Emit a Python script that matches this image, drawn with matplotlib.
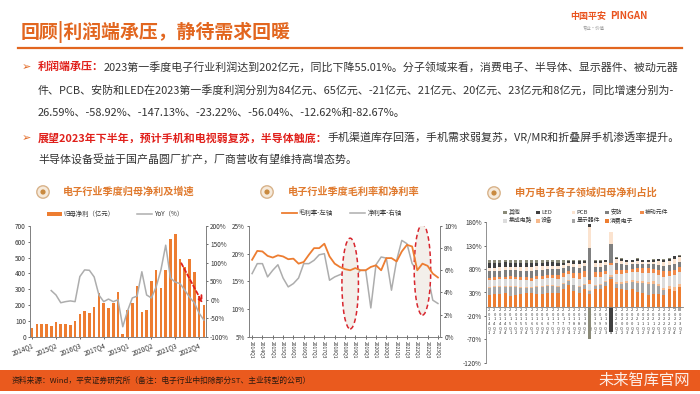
import numpy as np
import matplotlib
matplotlib.use("Agg")
import matplotlib.pyplot as plt
from matplotlib.patches import Rectangle, Circle, Ellipse

plt.rcParams['font.family'] = ['Noto Sans CJK SC', 'DejaVu Sans']
plt.rcParams['axes.unicode_minus'] = False

# ---------------- data ----------------
quarters = [f"{y}Q{q}" for y in range(2014, 2024) for q in range(1, 5)][:37]

# chart 1: net profit attributable (亿元) and YoY (%)
profit = [55, 80, 80, 80, 70, 90, 80, 80, 75, 100, 145, 165, 150, 190, 275, 215, 180, 215, 280,
          20, 170, 215, 320, 155, 170, 350, 420, 310, 420, 620, 650, 490, 440, 490, 410, 260, 202]
yoy_start = 4
yoy = [25, 13, -8, -5, -3, -5, 63, 81, 80, 62, 13, -5, 2, -5, 0,
       -73, -30, 5, 10, 76, 13, 5, 35, 81, 148, 59, 48, 44, 26, 7, -8, -36, -55]

# chart 2: gross margin (left, %) and net margin (right, %)
gross = [18.9, 20.5, 20.4, 19.6, 19.3, 19.7, 19.5, 19.0, 19.1, 18.2, 18.5, 19.8, 21.0, 21.0, 21.8,
         19.5, 18.2, 17.6, 17.2, 17.0, 17.4, 17.0, 17.0, 17.6, 17.9, 17.0, 19.2, 19.2, 18.6, 20.4,
         21.6, 21.3, 17.0, 18.2, 17.8, 16.4, 15.7]
net = [5.7, 6.6, 6.6, 5.4, 6.0, 6.5, 5.3, 4.5, 4.8, 5.3, 6.6, 6.6, 6.9, 7.4, 7.5,
       5.1, 5.4, 5.6, 5.8, 1.4, 5.5, 6.0, 6.0, 2.6, 6.5, 7.2, 7.1, 4.2, 6.9, 8.7,
       8.4, 6.6, 6.0, 6.3, 5.6, 3.3, 3.0]
highlight_q = ['2018Q4', '2022Q2']

# chart 3: share of net profit by sub-sector (%)
consumer = [24, 26, 27, 28, 23, 24, 26, 28, 29, 27, 27, 29, 30, 28, 37, 47, 33, 30, 37, 27, 38, 37, 44, 58,
            40, 38, 36, 38, 31, 29, 24, 27, 26, 25, 38, 34, 42]
display = [16, 15, 15, 13, 18, 17, 14, 12, 10, 14, 15, 14, 14, 13, 11, 8, 12, 12, 10, 6, 6, 9, 8, 6,
           8, 10, 14, 15, 20, 22, 25, 22, 17, 10, -3, -6, -10]
equipment = [2, 2, 2, 2, 2, 2, 2, 2, 2, 2, 2, 2, 2, 2, 2, 2, 2, 2, 2, 3, 3, 3, 3, 4,
             4, 4, 4, 4, 4, 4, 4, 5, 5, 5, 6, 7, 6]
ic = [14, 14, 14, 15, 16, 15, 15, 14, 14, 15, 15, 15, 15, 16, 14, 12, 15, 15, 14, 12, 16, 15, 14, 20,
      18, 18, 17, 16, 18, 17, 19, 18, 20, 24, 22, 26, 26]
passive = [6, 6, 6, 6, 6, 6, 6, 7, 7, 7, 7, 7, 7, 8, 7, 8, 10, 12, 12, 8, 10, 9, 8, 6,
           8, 8, 8, 7, 9, 10, 10, 9, 11, 12, 10, 11, 10]
security = [14, 13, 13, 14, 13, 14, 14, 14, 15, 14, 13, 13, 12, 13, 11, 10, 12, 12, 11, 70, 12, 12, 11, 40,
            14, 12, 10, 10, 9, 8, 8, 9, 10, 11, 12, 13, 11]
pcb = [7, 7, 7, 7, 7, 7, 7, 7, 7, 7, 7, 7, 7, 7, 6, 5, 7, 8, 7, 45, 8, 8, 7, 25,
       9, 8, 7, 6, 7, 6, 6, 6, 8, 9, 10, 11, 10]
led = [11, 11, 10, 10, 9, 9, 9, 9, 9, 8, 8, 8, 8, 7, 6, 5, 6, 6, 4, 5, 5, 5, 4, -55,
       2, 3, 3, 3, 3, 3, 3, 4, 4, 4, 4, 5, 4]
other = [6, 6, 6, 5, 6, 6, 7, 7, 7, 6, 6, 5, 5, 6, 6, 3, 3, 3, 3, -70, 2, 2, 1, 1,
         2, 2, 1, 1, 2, 1, 1, 1, 1, 1, 1, 1, 1]

# ---------------- styles ----------------
ORANGE = '#ED7D31'
THEME = '#E2661F'
GREY = '#ADADAD'
TXT = '#333333'
RED = '#E0201B'

fig = plt.figure(figsize=(7, 3.94), dpi=100)
ov = fig.add_axes([0, 0, 1, 1])
ov.set_xlim(0, 700)
ov.set_ylim(394, 0)
ov.axis('off')


def fbox(x0, y0, x1, y1):
    return [x0 / 700, 1 - y1 / 394, (x1 - x0) / 700, (y1 - y0) / 394]


# ---------------- header ----------------
ov.text(21, 32, '回顾|利润端承压，静待需求回暖', fontsize=13.6, fontweight='bold', color=THEME,
        va='center', ha='left')
ov.plot([18, 682], [48, 48], color=THEME, lw=1.6)
ov.text(570, 16, '中国平安', fontsize=6.5, fontweight='bold', color='#E9541F', va='center', ha='left')
ov.text(610, 16, 'PINGAN', fontsize=7, fontweight='bold', color='#E9541F', va='center', ha='left')
ov.text(583, 28, '专业·价值', fontsize=3.2, color='#999999', va='center', ha='left')


def rich(x, y, parts, fs=7.9):
    prev = None
    for s, col, wt in parts:
        if prev is None:
            prev = ov.text(x, y, s, color=col, fontweight=wt, fontsize=fs, va='center', ha='left')
        else:
            prev = ov.annotate(s, xy=(1, 0.5), xycoords=prev, color=col, fontweight=wt, fontsize=fs,
                               va='center', ha='left')


for yb in (67, 138):
    ov.text(22, yb, '➢', family=['DejaVu Sans'], fontsize=8, color=THEME, va='center', ha='left')

rich(38, 67, [('利润端承压：', RED, 'bold'),
              ('2023第一季度电子行业利润达到202亿元，同比下降55.01%。分子领域来看，消费电子、半导体、显示器件、被动元器', TXT, 'normal')])
rich(38, 90, [('件、PCB、安防和LED在2023第一季度利润分别为84亿元、65亿元、-21亿元、21亿元、20亿元、23亿元和8亿元，同比增速分别为-', TXT, 'normal')])
rich(38, 113, [('26.59%、-58.92%、-147.13%、-23.22%、-56.04%、-12.62%和-82.67%。', TXT, 'normal')])
rich(38, 138, [('展望2023年下半年，预计手机和电视弱复苏，半导体触底：', RED, 'bold'),
               ('手机渠道库存回落，手机需求弱复苏，VR/MR和折叠屏手机渗透率提升。', TXT, 'normal')])
rich(38, 160, [('半导体设备受益于国产晶圆厂扩产，厂商营收有望维持高增态势。', TXT, 'normal')])


# ---------------- chart titles ----------------
def icon(cx, cy):
    ov.add_patch(Circle((cx, cy), 6.2, facecolor='#F6EADB', edgecolor='#D8B38A', lw=1.0))
    ov.add_patch(Circle((cx, cy), 2.6, facecolor='#C98A40', edgecolor='none'))


TCOL = '#E07A2E'
icon(43, 192)
ov.text(63, 192, '电子行业季度归母净利及增速', fontsize=7.3, fontweight='bold', color=TCOL, va='center')
icon(267, 192)
ov.text(288, 192, '电子行业季度毛利率和净利率', fontsize=7.3, fontweight='bold', color=TCOL, va='center')
icon(494, 193)
ov.text(515, 193, '申万电子各子领域归母净利占比', fontsize=7.3, fontweight='bold', color=TCOL, va='center')

LFS = 4.6
# ---------------- chart 1 ----------------
ax1 = fig.add_axes(fbox(30, 226, 206, 336.7))
ax1.set_facecolor('none')
x = np.arange(len(profit))
ax1.bar(x, profit, width=0.55, color=ORANGE, lw=0, zorder=2)
ax1.set_xlim(-0.45, 36.45)
ax1.set_ylim(0, 700)
ax1.set_yticks(range(0, 701, 100))
ax1.set_xticks(range(0, 37, 5))
ax1.set_xticklabels([quarters[i] for i in range(0, 37, 5)], rotation=22, ha='right', va='top',
                    rotation_mode='anchor')
ax1.annotate('', xy=(36, profit[36] - 5), xytext=(31, profit[31] - 10),
             arrowprops=dict(arrowstyle='->', color=RED, lw=1.3, linestyle=(0, (2, 1.5))), zorder=5)
ax1b = ax1.twinx()
ax1b.set_facecolor('none')
ax1b.plot(np.arange(yoy_start, yoy_start + len(yoy)), yoy, color=GREY, lw=1.1, zorder=3)
ax1b.set_ylim(-100, 200)
ax1b.set_yticks(range(-100, 201, 50))
ax1b.set_yticklabels([f'{v}%' for v in range(-100, 201, 50)])
for a in (ax1, ax1b):
    a.spines['top'].set_visible(False)
    for s in ('left', 'right', 'bottom'):
        a.spines[s].set_color('#808080')
        a.spines[s].set_linewidth(0.6)
    a.tick_params(labelsize=LFS, colors=TXT, length=1.5, width=0.5, pad=1.5)
ov.add_patch(Rectangle((47, 212.3), 14.5, 3.6, facecolor=ORANGE, edgecolor='none'))
ov.text(63, 214.2, '归母净利（亿元）', fontsize=LFS, color=TXT, va='center')
ov.plot([137, 152], [214.2, 214.2], color=GREY, lw=1.1)
ov.text(154, 214.2, 'YoY（%）', fontsize=LFS, color=TXT, va='center')

# ---------------- chart 2 ----------------
ax2 = fig.add_axes(fbox(249, 226, 440, 336.7))
ax2.set_facecolor('none')
x2 = np.arange(len(gross))
for q, yc in zip(highlight_q, (14.6, 17.1)):
    k = quarters.index(q)
    ax2.add_patch(Ellipse((k, yc), 3.2, 16.4, facecolor='#F3EFEA', edgecolor='#D8262E', lw=1.1,
                          linestyle=(0, (3, 2)), zorder=1))
ax2.plot(x2, gross, color=ORANGE, lw=1.3, zorder=4)
ax2.set_xlim(-0.6, 36.4)
ax2.set_ylim(5, 25)
ax2.set_yticks(range(5, 26, 5))
ax2.set_yticklabels([f'{v}%' for v in range(5, 26, 5)])
ax2.set_xticks(range(0, 37, 2))
ax2.set_xticklabels([quarters[i] for i in range(0, 37, 2)], rotation=270, ha='center', va='top')
ax2b = ax2.twinx()
ax2b.set_facecolor('none')
ax2b.plot(x2, net, color=GREY, lw=1.1, zorder=3)
ax2b.set_ylim(0, 10)
ax2b.set_yticks(range(0, 11, 2))
ax2b.set_yticklabels([f'{v}%' for v in range(0, 11, 2)])
ax2.set_zorder(ax2b.get_zorder() + 1)
for a in (ax2, ax2b):
    a.spines['top'].set_visible(False)
    for s in ('left', 'right', 'bottom'):
        a.spines[s].set_color('#808080')
        a.spines[s].set_linewidth(0.6)
    a.tick_params(labelsize=LFS, colors=TXT, length=1.5, width=0.5, pad=1.5)
ax2.tick_params(axis='x', labelsize=3.6, direction='inout', length=2.5)
ov.plot([281.5, 296.5], [213.3, 213.3], color=ORANGE, lw=1.3)
ov.text(298.5, 213.3, '毛利率-左轴', fontsize=LFS, color=TXT, va='center')
ov.plot([350, 365], [213.3, 213.3], color=GREY, lw=1.1)
ov.text(367.5, 213.3, '净利率-右轴', fontsize=LFS, color=TXT, va='center')

# ---------------- chart 3 ----------------
ax3 = fig.add_axes(fbox(486, 222.3, 683, 362.7))
ax3.set_facecolor('none')
stack = [('消费电子', consumer, '#ED7D31'), ('显示器件', display, '#A5A5A5'), ('设备', equipment, '#F6B98C'),
         ('集成电路', ic, '#DCDCDC'), ('被动元件', passive, '#F08A4A'), ('安防', security, '#7F7F7F'),
         ('PCB', pcb, '#FBE3CF'), ('LED', led, '#404040'), ('其他', other, '#8A8A78')]
x3 = np.arange(len(consumer))
pos_b = np.zeros(len(x3))
neg_b = np.zeros(len(x3))
for name, vals, col in stack:
    v = np.array(vals, dtype=float)
    b = np.where(v >= 0, pos_b, neg_b)
    ax3.bar(x3, v, bottom=b, width=0.58, color=col, lw=0, zorder=2)
    pos_b += np.where(v > 0, v, 0)
    neg_b += np.where(v < 0, v, 0)
ax3.set_xlim(-0.6, 36.6)
ax3.set_ylim(-120, 180)
ax3.set_yticks(range(-120, 181, 50))
ax3.set_yticklabels([f'{v}%' for v in range(-120, 181, 50)])
ax3.set_xticks(x3)
ax3.set_xticklabels(['\n'.join(q) for q in quarters], rotation=0, ha='center', va='top',
                    linespacing=0.82)
ax3.spines['bottom'].set_position(('data', 0))
ax3.spines['top'].set_visible(False)
ax3.spines['right'].set_visible(False)
for s in ('left', 'bottom'):
    ax3.spines[s].set_color('#808080')
    ax3.spines[s].set_linewidth(0.6)
ax3.tick_params(axis='y', labelsize=LFS, colors=TXT, length=1.5, width=0.5, pad=1.5)
ax3.tick_params(axis='x', labelsize=2.9, colors=TXT, length=0, pad=1)

leg = [('其他', '#8A8A78', 505, 212.3), ('LED', '#404040', 537.7, 212.3), ('PCB', '#FBE3CF', 573.3, 212.3),
       ('安防', '#7F7F7F', 606.7, 212.3), ('被动元件', '#F08A4A', 641.7, 212.3),
       ('集成电路', '#DCDCDC', 505, 220.7), ('设备', '#F6B98C', 537.7, 220.7),
       ('显示器件', '#A5A5A5', 573.3, 220.7), ('消费电子', '#ED7D31', 606.7, 220.7)]
for name, col, lx, ly in leg:
    ov.add_patch(Rectangle((lx - 1.8, ly - 1.8), 3.6, 3.6, facecolor=col, edgecolor='none'))
    ov.text(lx + 3.5, ly, name, fontsize=4.2, color=TXT, va='center')

# ---------------- footer ----------------
ov.add_patch(Rectangle((0, 370), 700, 21, facecolor='#EA5A1E', edgecolor='none'))
ov.text(12, 381, '资料来源：Wind，平安证券研究所（备注：电子行业中扣除部分ST、主业转型的公司）',
        fontsize=5.6, color='#2B1A10', va='center', ha='left')
ov.text(690, 380, '未来智库官网', fontsize=11, color='white', va='center', ha='right', alpha=0.9)

fig.savefig('out.png', dpi=100)
